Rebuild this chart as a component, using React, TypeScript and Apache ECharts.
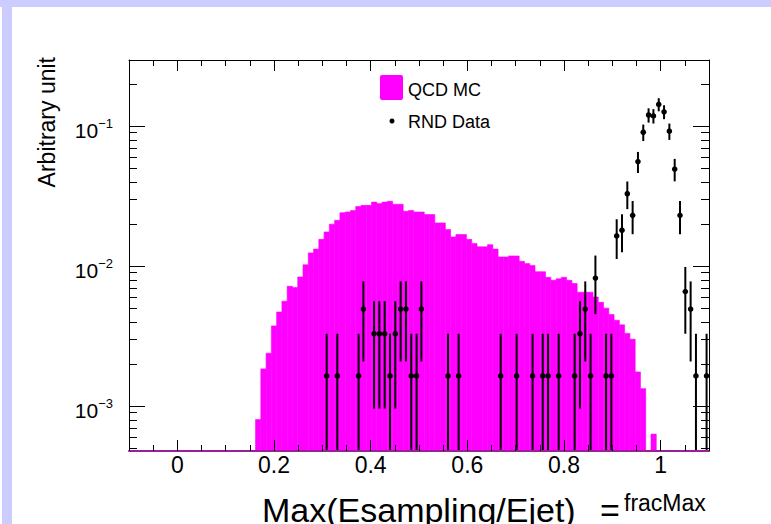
import { useEffect, useRef } from 'react';
import * as echarts from 'echarts';

const FONT = '"Liberation Sans", Arial, Helvetica, sans-serif';
const MAGENTA = '#ff00ff';
const LAVENDER = '#ccccff';

// histogram definition: 110 bins on [-0.1, 1.1]
const X_LO = -0.1;
const X_HI = 1.1;
const NBINS = 110;
const Y_MIN = 0.000477;
const Y_MAX = 0.296;

// QCD MC (normalised), one value per bin
const mcValues = [
  0, 0, 0, 0, 0, 0, 0, 0, 0, 0,
  0, 0, 0, 0, 0, 0, 0, 0, 0, 0,
  0, 0, 0, 0, 0.0008, 0.00184, 0.00238, 0.00373, 0.00469, 0.0056,
  0.00716, 0.00701, 0.00834, 0.0102, 0.0124, 0.0132, 0.0155, 0.0175, 0.0199, 0.0212,
  0.024, 0.0243, 0.0249, 0.0266, 0.0271, 0.0271, 0.0286, 0.0279, 0.0286, 0.029,
  0.0276, 0.0276, 0.0246, 0.0249, 0.0243, 0.0243, 0.0233, 0.0233, 0.0203, 0.0203,
  0.0182, 0.0161, 0.0168, 0.0168, 0.0155, 0.0145, 0.0137, 0.0137, 0.0142, 0.0132,
  0.0116, 0.0116, 0.0118, 0.0118, 0.0108, 0.0104, 0.0101, 0.0091, 0.0091, 0.0083,
  0.0079, 0.0081, 0.0083, 0.0079, 0.0075, 0.0065, 0.0065, 0.0065, 0.006, 0.0055,
  0.005, 0.0045, 0.0041, 0.0038, 0.0033, 0.003, 0.00175, 0.00133, 0, 0.00063,
  0, 0, 0, 0, 0, 0, 0, 0, 0, 0,
];

// RND Data: bin centre, value, error
const dataX = [
  0.309, 0.331, 0.375, 0.385, 0.407, 0.418, 0.429, 0.44, 0.451, 0.462,
  0.473, 0.484, 0.495, 0.505, 0.56, 0.582, 0.669, 0.702, 0.735, 0.756,
  0.767, 0.789, 0.822, 0.833, 0.844, 0.855, 0.865, 0.887, 0.898, 0.909,
  0.92, 0.931, 0.942, 0.953, 0.964, 0.975, 0.985, 0.996, 1.007, 1.018,
  1.029, 1.04, 1.051, 1.062, 1.073, 1.095,
];
const dataY = [
  0.00164, 0.00164, 0.00164, 0.00492, 0.00328, 0.00328, 0.00328, 0.00164, 0.00328, 0.00492,
  0.00492, 0.00164, 0.00164, 0.00492, 0.00164, 0.00164, 0.00164, 0.00164, 0.00164, 0.00164,
  0.00164, 0.00164, 0.00164, 0.00328, 0.00492, 0.00164, 0.0082, 0.00164, 0.00164, 0.0164,
  0.018, 0.0328, 0.023, 0.0557, 0.0902, 0.1197, 0.118, 0.1426, 0.1262, 0.0918,
  0.0492, 0.023, 0.00656, 0.00492, 0.00164, 0.00164,
];
const dataErr = [
  0.00164, 0.00164, 0.00164, 0.00284, 0.00232, 0.00232, 0.00232, 0.00164, 0.00232, 0.00284,
  0.00284, 0.00164, 0.00164, 0.00284, 0.00164, 0.00164, 0.00164, 0.00164, 0.00164, 0.00164,
  0.00164, 0.00164, 0.00164, 0.00232, 0.00284, 0.00164, 0.00367, 0.00164, 0.00164, 0.00518,
  0.00544, 0.00733, 0.00613, 0.00956, 0.01216, 0.014, 0.0139, 0.01529, 0.01439, 0.01227,
  0.00898, 0.00613, 0.00328, 0.00284, 0.00164, 0.00164,
];

// y-axis ticks
const yMajorTicks = [0.001, 0.01, 0.1];
const yMajorExponents = ['\u22123', '\u22122', '\u22121'];
const yMinorTicks = [
  0.0005, 0.0006, 0.0007, 0.0008, 0.0009,
  0.002, 0.003, 0.004, 0.005, 0.006, 0.007, 0.008, 0.009,
  0.02, 0.03, 0.04, 0.05, 0.06, 0.07, 0.08, 0.09,
  0.2,
];
const xLabelStep = 0.2;

const legendLabels = ['QCD MC', 'RND Data'];
const yTitle = 'Arbitrary unit';
const xTitle = 'Max(Esampling/Ejet)';
const xTitleSup = 'fracMax';

function buildOption(): any {
  const binW = (X_HI - X_LO) / NBINS;
  const mcData: number[][] = [];
  mcValues.forEach((v, j) => {
    if (v > 0) mcData.push([X_LO + j * binW, v, X_LO + (j + 1) * binW]);
  });
  const pointData = dataX.map((x, i) => [x, dataY[i], dataErr[i]]);
  const tickData = [
    ...yMajorTicks.map((v) => [X_LO, v, 1]),
    ...yMinorTicks.map((v) => [X_LO, v, 0]),
  ];

  const xAxisBase = {
    type: 'value',
    min: X_LO,
    max: X_HI,
    splitNumber: 5,
    splitLine: { show: false },
    z: 10,
    axisTick: { show: true, inside: true, length: 11, lineStyle: { color: '#000', width: 1 } },
    minorTick: { show: true, splitNumber: 4, length: 6, lineStyle: { color: '#000', width: 1 } },
  };
  const yAxisBase = {
    type: 'log',
    logBase: 10,
    min: Y_MIN,
    max: Y_MAX,
    splitLine: { show: false },
    axisTick: { show: false },
    minorTick: { show: false },
    z: 10,
  };

  return {
    animation: false,
    backgroundColor: '#ffffff',
    grid: { left: 129, right: 62, top: 60, bottom: 73, containLabel: false, outerBoundsMode: 'none' },
    xAxis: [
      {
        ...xAxisBase,
        position: 'bottom',
        axisLine: { show: true, onZero: false, lineStyle: { color: '#9b1f9b', width: 2 } },
        axisLabel: {
          show: true,
          color: '#000',
          fontFamily: FONT,
          fontSize: 23,
          margin: 2,
          formatter: (v: number) => {
            const k = v / xLabelStep;
            if (Math.abs(k - Math.round(k)) > 1e-6) return '';
            return String(+v.toFixed(1));
          },
        },
      },
      {
        ...xAxisBase,
        position: 'top',
        axisLine: { show: true, onZero: false, lineStyle: { color: '#000', width: 1 } },
        axisLabel: { show: false },
      },
    ],
    yAxis: [
      {
        ...yAxisBase,
        position: 'left',
        axisLine: { show: true, onZero: false, lineStyle: { color: '#000', width: 1 } },
        axisLabel: {
          show: true,
          margin: 16,
          padding: [10, 0, 0, 0],
          formatter: (v: number) => {
            const idx = yMajorTicks.findIndex((t) => Math.abs(Math.log10(v) - Math.log10(t)) < 1e-6);
            if (idx < 0) return '';
            return '{b|10}{s|' + yMajorExponents[idx] + '}';
          },
          rich: {
            b: { fontFamily: FONT, fontSize: 21, color: '#000', lineHeight: 28 },
            s: { fontFamily: FONT, fontSize: 13, color: '#000', lineHeight: 14, verticalAlign: 'top' },
          },
        },
      },
      {
        ...yAxisBase,
        position: 'right',
        axisLine: { show: true, onZero: false, lineStyle: { color: '#000', width: 1 } },
        axisLabel: { show: false },
      },
    ],
    series: [
      {
        name: legendLabels[0],
        type: 'custom',
        z: 2,
        silent: true,
        encode: { x: [0, 2], y: 1 },
        data: mcData,
        renderItem: (params: any, api: any) => {
          const lo = api.value(0);
          const v = api.value(1);
          const hi = api.value(2);
          const pTop = api.coord([lo, v]);
          const pBot = api.coord([hi, Y_MIN]);
          return {
            type: 'rect',
            shape: { x: pTop[0], y: pTop[1], width: pBot[0] - pTop[0], height: pBot[1] - pTop[1] },
            style: { fill: MAGENTA, stroke: MAGENTA, lineWidth: 0.6 },
          };
        },
      },
      {
        name: legendLabels[1],
        type: 'custom',
        z: 4,
        silent: true,
        encode: { x: 0, y: 1 },
        data: pointData,
        renderItem: (params: any, api: any) => {
          const x = api.value(0);
          const y = api.value(1);
          const e = api.value(2);
          const cs = params.coordSys;
          const c = api.coord([x, y]);
          const top = api.coord([x, y + e]);
          const low = y - e;
          const bottomY = low > Y_MIN ? api.coord([x, low])[1] : cs.y + cs.height;
          return {
            type: 'group',
            children: [
              { type: 'line', shape: { x1: c[0], y1: top[1], x2: c[0], y2: bottomY }, style: { stroke: '#000', lineWidth: 2 } },
              { type: 'circle', shape: { cx: c[0], cy: c[1], r: 2.8 }, style: { fill: '#000' } },
            ],
          };
        },
      },
      {
        name: 'yticks',
        type: 'custom',
        z: 6,
        silent: true,
        encode: { x: 0, y: 1 },
        data: tickData,
        renderItem: (params: any, api: any) => {
          const v = api.value(1);
          const major = api.value(2) === 1;
          const len = major ? 16 : 8;
          const cs = params.coordSys;
          const y = Math.round(api.coord([X_LO, v])[1]) + 0.5;
          return {
            type: 'group',
            children: [
              { type: 'line', shape: { x1: cs.x, y1: y, x2: cs.x + len, y2: y }, style: { stroke: '#000', lineWidth: 1 } },
              { type: 'line', shape: { x1: cs.x + cs.width - len, y1: y, x2: cs.x + cs.width, y2: y }, style: { stroke: '#000', lineWidth: 1 } },
            ],
          };
        },
      },
    ],
    graphic: [
      { type: 'rect', silent: true, shape: { x: 0, y: 0, width: 771, height: 7 }, style: { fill: LAVENDER } },
      { type: 'rect', silent: true, shape: { x: 2, y: 0, width: 10, height: 524 }, style: { fill: LAVENDER } },
      { type: 'rect', silent: true, shape: { x: 380, y: 75, width: 23, height: 25, r: 2 }, style: { fill: MAGENTA } },
      {
        type: 'text', silent: true, x: 408, y: 90,
        style: { text: legendLabels[0], fontFamily: FONT, fontSize: 18, fill: '#000', align: 'left', verticalAlign: 'middle' },
      },
      { type: 'circle', silent: true, shape: { cx: 392, cy: 121, r: 2.5 }, style: { fill: '#000' } },
      {
        type: 'text', silent: true, x: 408, y: 122,
        style: { text: legendLabels[1], fontFamily: FONT, fontSize: 18, fill: '#000', align: 'left', verticalAlign: 'middle' },
      },
      {
        type: 'text', silent: true, x: 47, y: 57, rotation: Math.PI / 2,
        style: { text: yTitle, fontFamily: FONT, fontSize: 23, fill: '#000', align: 'right', verticalAlign: 'middle' },
      },
      {
        type: 'text', silent: true, x: 262, y: 510,
        style: { text: xTitle, fontFamily: FONT, fontSize: 34, fill: '#000', align: 'left', verticalAlign: 'middle' },
      },
      {
        type: 'text', silent: true, x: 600, y: 510,
        style: { text: '=', fontFamily: FONT, fontSize: 34, fill: '#000', align: 'left', verticalAlign: 'middle' },
      },
      {
        type: 'text', silent: true, x: 624, y: 503,
        style: { text: xTitleSup, fontFamily: FONT, fontSize: 23, fill: '#000', align: 'left', verticalAlign: 'middle' },
      },
    ],
  };
}

export default function App() {
  const ref = useRef<HTMLDivElement | null>(null);
  useEffect(() => {
    if (!ref.current) return;
    const chart = echarts.init(ref.current, null, { renderer: 'svg' });
    chart.setOption(buildOption());
    return () => {
      chart.dispose();
    };
  }, []);
  return (
    <div style={{ position: 'fixed', left: 0, top: 0, width: 771, height: 524, background: '#ffffff', overflow: 'hidden' }}>
      <div ref={ref} style={{ width: 771, height: 524 }} />
    </div>
  );
}
